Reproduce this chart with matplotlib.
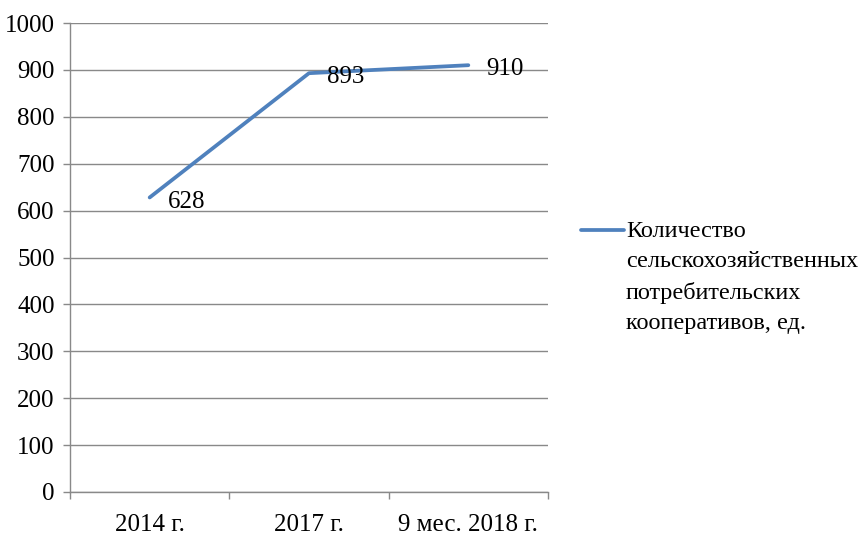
import matplotlib
matplotlib.use("Agg")
import matplotlib.pyplot as plt
from matplotlib.ticker import FixedLocator

categories = ["2014 г.", "2017 г.", "9 мес. 2018 г."]
values = [628, 893, 910]
series_name = "Количество\nсельскохозяйственных\nпотребительских\nкооперативов, ед."
y_ticks = list(range(0, 1001, 100))

plt.rcParams["font.family"] = ["Liberation Serif", "DejaVu Serif"]
FS = 18
GRID = "#898989"
BLUE = "#4F81BD"

fig = plt.figure(figsize=(8.67, 5.38), dpi=100)
ax = fig.add_axes([70 / 867, 46 / 538, 478 / 867, 469 / 538])

x = list(range(len(categories)))
ln, = ax.plot(x, values, color=BLUE, lw=2.7, solid_capstyle="round", label=series_name)
for xi, v in zip(x, values):
    ax.annotate(str(v), (xi, v), xytext=(13, -3), textcoords="offset points",
                ha="left", va="center", fontsize=FS)

ax.set_xlim(-0.5, len(categories) - 0.5)
ax.set_ylim(0, 1000)
ax.set_yticks(y_ticks)
ax.set_xticks(x)
ax.set_xticklabels(categories)
ax.xaxis.set_minor_locator(FixedLocator([i - 0.5 for i in range(len(categories) + 1)]))
ax.tick_params(axis="x", which="major", length=0, pad=16, labelsize=FS)
ax.tick_params(axis="x", which="minor", length=5, color=GRID, width=1)
ax.tick_params(axis="y", length=5, color=GRID, width=1, pad=6, labelsize=FS)
ax.yaxis.grid(True, color=GRID, lw=1)
ax.set_axisbelow(True)
for s in ("top", "right"):
    ax.spines[s].set_visible(False)
for s in ("left", "bottom"):
    ax.spines[s].set_color(GRID)
    ax.spines[s].set_linewidth(1)

leg = fig.legend(handles=[ln], loc="upper left", bbox_to_anchor=(581 / 867, 1 - 221 / 538),
                 frameon=False, fontsize=17.5, handlelength=1.75, handletextpad=0.1,
                 borderpad=0, borderaxespad=0, labelspacing=0)
for t in leg.get_texts():
    t.set_linespacing(1.58)
# keep the legend line level with the first text line
for col in leg._legend_handle_box.get_children():
    for item in col.get_children():
        item.align = "top"

fig.savefig("out.png", dpi=100)
